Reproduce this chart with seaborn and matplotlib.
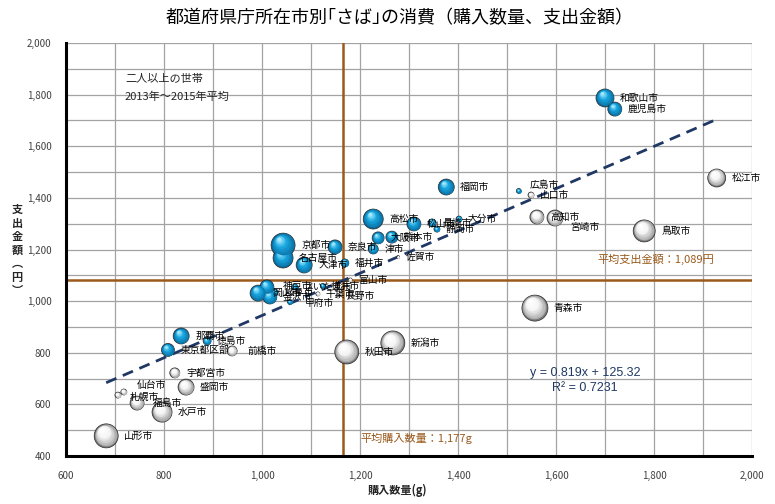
import numpy as np
import pandas as pd
import matplotlib
matplotlib.use("Agg")
import matplotlib.pyplot as plt
from matplotlib.transforms import offset_copy
import matplotlib.colors as mcolors
import seaborn as sns

# ---------------- data ----------------
cities = ["札幌市", "青森市", "盛岡市", "仙台市", "秋田市", "山形市", "福島市", "水戸市",
          "宇都宮市", "前橋市", "さいたま市", "千葉市", "東京都区部", "横浜市", "新潟市", "富山市",
          "金沢市", "福井市", "甲府市", "長野市", "岐阜市", "静岡市", "名古屋市", "津市",
          "大津市", "京都市", "大阪市", "神戸市", "奈良市", "和歌山市", "鳥取市", "松江市",
          "岡山市", "広島市", "山口市", "徳島市", "高松市", "松山市", "高知市", "福岡市",
          "佐賀市", "長崎市", "熊本市", "大分市", "宮崎市", "鹿児島市", "那覇市"]
purchase = [706, 1557, 845, 718, 1173, 682, 745, 796,
            822, 939, 1067, 1114, 808, 1124, 1267, 1180,
            1016, 1169, 1057, 1155, 1027, 1357, 1043, 1227,
            1086, 1043, 1237, 1010, 1149, 1700, 1780, 1928,
            992, 1524, 1549, 888, 1227, 1310, 1561, 1376,
            1278, 1347, 1265, 1402, 1598, 1720, 835]
spending = [636, 973, 667, 648, 803, 478, 605, 570,
            722, 807, 1055, 1028, 811, 1059, 838, 1082,
            1016, 1148, 997, 1020, 1035, 1279, 1167, 1202,
            1140, 1217, 1245, 1055, 1210, 1787, 1272, 1477,
            1031, 1427, 1411, 846, 1318, 1299, 1326, 1442,
            1171, 1303, 1248, 1318, 1322, 1744, 865]
bubble = [9, 169, 64, 9, 144, 144, 49, 100,
          25, 25, 9, 4, 42, 6, 144, 4,
          49, 16, 6, 4, 9, 9, 100, 25,
          64, 144, 36, 49, 49, 81, 121, 81,
          64, 6, 9, 16, 100, 49, 49, 64,
          2, 16, 36, 9, 64, 49, 64]
group = ["少", "少", "少", "少", "少", "少", "少", "少",
         "少", "少", "多", "少", "多", "多", "少", "少",
         "多", "多", "多", "少", "多", "多", "多", "多",
         "多", "多", "多", "多", "多", "多", "少", "少",
         "多", "多", "少", "多", "多", "多", "少", "多",
         "少", "多", "多", "多", "少", "多", "多"]

# label nudges (pixels: dx to the right, dy downward)
label_nudge = {"宮崎市": (15, 9), "広島市": (11, -6), "仙台市": (13, -7), "札幌市": (12, 2),
               "福島市": (16, 0), "前橋市": (15, 0), "神戸市": (16, -1), "甲府市": (15, 1)}

slope, intercept, r2 = 0.819, 125.32, 0.7231
mean_x_line, mean_y_line = 1166, 1080
mean_x_label, mean_y_label = "1,177", "1,089"

x_ticks = list(range(600, 2001, 200))
y_ticks = list(range(400, 2001, 200))

df = pd.DataFrame({"city": cities, "x": purchase, "y": spending, "b": bubble, "g": group})

# ---------------- style ----------------
sns.set_style("white")
plt.rcParams["font.family"] = ["Noto Sans CJK JP", "DejaVu Sans"]

W, H = 775, 504
fig = plt.figure(figsize=(W / 100, H / 100), dpi=100)
ax = fig.add_axes([66 / W, 1 - 456 / H, (752 - 66) / W, (456 - 43) / H])

ax.set_xlim(600, 2000)
ax.set_ylim(400, 2000)

# grid every 100
ax.set_xticks(x_ticks)
ax.set_yticks(y_ticks)
ax.set_xticks(range(600, 2001, 100), minor=True)
ax.set_yticks(range(400, 2001, 100), minor=True)
ax.grid(which="both", color="#a3a3a3", lw=0.9, zorder=0)
ax.set_axisbelow(True)
ax.set_xticklabels([f"{v:,}" for v in x_ticks], fontsize=7, color="#404040")
ax.set_yticklabels([f"{v:,}" for v in y_ticks], fontsize=7, color="#404040")
ax.tick_params(which="major", direction="inout", length=5, width=1.2, color="black", pad=8)
ax.tick_params(which="minor", direction="inout", length=3, width=1.0, color="black")
for s in ["top", "right"]:
    ax.spines[s].set_visible(False)
for s in ["left", "bottom"]:
    ax.spines[s].set_color("black")
    ax.spines[s].set_linewidth(2.2)

# average lines
avg_col = "#9a5a1c"
ax.axvline(mean_x_line, color=avg_col, lw=1.8, zorder=2)
ax.axhline(mean_y_line, color=avg_col, lw=1.8, zorder=2)

# regression line
xr = np.array([min(purchase), max(purchase)])
reg = pd.DataFrame({"x": xr, "y": slope * xr + intercept})
sns.lineplot(data=reg, x="x", y="y", ax=ax, color="#1f3864", lw=2.0,
             linestyle=(0, (4, 2.5)), zorder=3)

# bubbles: base layer through seaborn
palette = {"多": "#0a6a9c", "少": "#7a7a7a"}
K = (2 * 0.72) ** 2
sns.scatterplot(data=df, x="x", y="y", hue="g", palette=palette, size="b",
                sizes=(0, 200 * K), size_norm=(0, 200), legend=False, ax=ax,
                edgecolor="#2a2a2a", linewidth=0.5, zorder=4)

# shading layers for a 3-D look (three colour stops)
styles = {"多": ("#0a6fa3", "#17a5df", "#a8ecff"), "少": ("#9a9a9a", "#f4f4f4", "#ffffff")}
n_layers = 10
for _, row in df.iterrows():
    r_pt = np.sqrt(row.b) * 0.72
    c0, c1, c2 = [np.array(mcolors.to_rgb(c)) for c in styles[row.g]]
    for i in range(1, n_layers):
        t = i / (n_layers - 1)
        f = 1 - 0.85 * t
        off = r_pt * (1 - f) * 0.75
        tr = offset_copy(ax.transData, fig=fig, x=-0.55 * off, y=0.8 * off, units="points")
        if t < 0.55:
            u = t / 0.55
            col = c0 * (1 - u) + c1 * u
        else:
            u = (t - 0.55) / 0.45
            col = c1 * (1 - u) + c2 * u
        ax.scatter([row.x], [row.y], s=(2 * r_pt * f) ** 2, color=col, lw=0,
                   transform=tr, zorder=5)

# city labels
for _, row in df.iterrows():
    r_px = np.sqrt(row.b)
    dx, dy = label_nudge.get(row.city, (r_px + 6, 0))
    ax.annotate(row.city, (row.x, row.y), xytext=(dx * 0.72, -dy * 0.72),
                textcoords="offset points", fontsize=7, va="center", ha="left",
                color="black", zorder=6)

# texts
fig.text(400 / W, 1 - 18 / H, "都道府県庁所在市別｢さば｣の消費（購入数量、支出金額）",
         ha="center", va="center", fontsize=13, color="black")
fig.text(125 / W, 1 - 79 / H, "二人以上の世帯", ha="left", va="center", fontsize=8)
fig.text(125 / W, 1 - 97 / H, "2013年～2015年平均", ha="left", va="center", fontsize=8)
fig.text(597 / W, 1 - 259 / H, f"平均支出金額：{mean_y_label}円", ha="left", va="center",
         fontsize=8, color=avg_col)
fig.text(360 / W, 1 - 438 / H, f"平均購入数量：{mean_x_label}g", ha="left", va="center",
         fontsize=8, color=avg_col)
fig.text(585 / W, 1 - 373 / H, f"y = {slope}x + {intercept}", ha="center", va="center",
         fontsize=9, color="#1f3864", family=["Liberation Sans", "DejaVu Sans"])
fig.text(585 / W, 1 - 388 / H, f"R² = {r2}", ha="center", va="center",
         fontsize=9, color="#1f3864", family=["Liberation Sans", "DejaVu Sans"])

ax.set_xlabel("")
ax.set_ylabel("")
fig.text(398 / W, 1 - 490 / H, "購入数量(g)", ha="center", va="center", fontsize=8,
         fontweight="bold")
fig.text(17 / W, 1 - 250 / H, "\n".join("支出金額︵円︶"), ha="center", va="center",
         fontsize=8, fontweight="bold", linespacing=1.05)

fig.savefig("out.png", dpi=100)
